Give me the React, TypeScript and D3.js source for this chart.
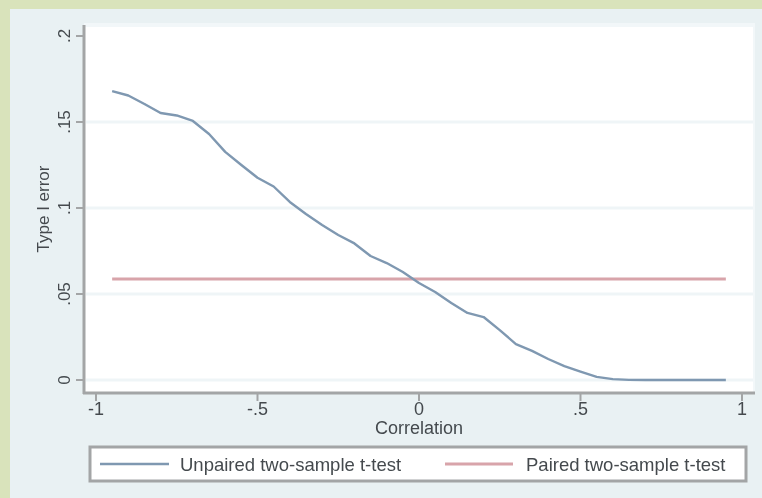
import * as d3 from 'd3';

const correlation = [
	-0.95, -0.9, -0.85, -0.8, -0.75, -0.7, -0.65, -0.6, -0.55, -0.5, -0.45, -0.4, -0.35, -0.3, -0.25, -0.2,
	-0.15, -0.1, -0.05, 0, 0.05, 0.1, 0.15, 0.2, 0.25, 0.3, 0.35, 0.4, 0.45, 0.5, 0.55, 0.6, 0.65, 0.7, 0.75,
	0.8, 0.85, 0.9, 0.95,
];

const unpairedError = [
	0.168, 0.1654, 0.1605, 0.1552, 0.1538, 0.1506, 0.143, 0.1326, 0.125, 0.1176, 0.1125, 0.1035, 0.0965, 0.0901,
	0.0843, 0.0794, 0.0721, 0.068, 0.0628, 0.0564, 0.0512, 0.0448, 0.039, 0.0366, 0.029, 0.0209, 0.0169, 0.0122,
	0.0081, 0.0049, 0.0018, 0.0005, 0.0001, 0, 0, 0, 0, 0, 0,
];

const pairedError = [
	0.0587, 0.0587, 0.0587, 0.0587, 0.0587, 0.0587, 0.0587, 0.0587, 0.0587, 0.0587, 0.0587, 0.0587, 0.0587,
	0.0587, 0.0587, 0.0587, 0.0587, 0.0587, 0.0587, 0.0587, 0.0587, 0.0587, 0.0587, 0.0587, 0.0587, 0.0587,
	0.0587, 0.0587, 0.0587, 0.0587, 0.0587, 0.0587, 0.0587, 0.0587, 0.0587, 0.0587, 0.0587, 0.0587, 0.0587,
];

const xTicks = [-1, -0.5, 0, 0.5, 1];
const xTickLabels = ['-1', '-.5', '0', '.5', '1'];
const yTicks = [0, 0.05, 0.1, 0.15, 0.2];
const yTickLabels = ['0', '.05', '.1', '.15', '.2'];

const seriesLabels = ['Unpaired two-sample t-test', 'Paired two-sample t-test'];

const W = 762;
const H = 498;
const font = '"Liberation Sans", Arial, sans-serif';
const textColor = '#444a4e';
const axisColor = '#a3a5a6';
const blue = '#7f98b1';
const red = '#d8a4aa';

export default function App() {
	// plot area
	const left = 84;
	const right = 753;
	const top = 25;
	const bottom = 393;

	const x = d3.scaleLinear().domain([-1, 1]).range([96, 742]);
	const y = d3.scaleLinear().domain([0, 0.2]).range([380, 36]);

	const unpaired = correlation.map((c, i) => ({ c, v: unpairedError[i] }));
	const paired = correlation.map((c, i) => ({ c, v: pairedError[i] }));

	const line = d3
		.line<{ c: number; v: number }>()
		.x((d) => x(d.c))
		.y((d) => y(d.v));

	return (
		<svg
			width={W}
			height={H}
			style={{ position: 'absolute', left: 0, top: 0 }}
			fontFamily={font}
		>
			<defs>
				<filter id="soft" x="-5%" y="-5%" width="110%" height="110%">
					<feGaussianBlur stdDeviation="0.55" />
				</filter>
			</defs>
			<rect x={0} y={0} width={W} height={H} fill="#d9e3bb" />
			<g filter="url(#soft)">
				{/* graph region */}
				<rect x={10} y={9} width={W - 10} height={H - 9} fill="#e9f1f3" />
				{/* plot region */}
				<rect x={left} y={top - 2} width={right - left + 2} height={bottom - top + 3} fill="#f2f7f9" />
				<rect x={left} y={top + 2} width={right - left} height={bottom - top - 2} fill="#ffffff" />

				{/* grid */}
				{yTicks.slice(0, 4).map((t) => (
					<line
						key={'g' + t}
						x1={left + 2}
						x2={right}
						y1={y(t)}
						y2={y(t)}
						stroke="#eff5f7"
						strokeWidth={3}
					/>
				))}

				{/* axes */}
				<line x1={left} x2={left} y1={top} y2={bottom + 1} stroke={axisColor} strokeWidth={3} />
				<line x1={left - 1} x2={right + 2} y1={bottom} y2={bottom} stroke={axisColor} strokeWidth={3} />

				{yTicks.map((t, i) => (
					<g key={'y' + t}>
						<line x1={left - 8} x2={left} y1={y(t)} y2={y(t)} stroke={axisColor} strokeWidth={2} />
						<text
							transform={`translate(70,${y(t)}) rotate(-90)`}
							textAnchor="middle"
							fontSize={17}
							fill={textColor}
						>
							{yTickLabels[i]}
						</text>
					</g>
				))}

				{xTicks.map((t, i) => (
					<g key={'x' + t}>
						<line x1={x(t)} x2={x(t)} y1={bottom} y2={bottom + 8} stroke={axisColor} strokeWidth={2} />
						<text x={x(t)} y={415} textAnchor="middle" fontSize={18} fill={textColor}>
							{xTickLabels[i]}
						</text>
					</g>
				))}

				<text x={x(0)} y={434} textAnchor="middle" fontSize={18} fill={textColor}>
					Correlation
				</text>
				<text
					transform={`translate(49,${(top + bottom) / 2}) rotate(-90)`}
					textAnchor="middle"
					fontSize={17}
					fill={textColor}
				>
					Type I error
				</text>

				{/* series */}
				<path d={line(paired) ?? ''} fill="none" stroke={red} strokeWidth={3} />
				<path d={line(unpaired) ?? ''} fill="none" stroke={blue} strokeWidth={2.4} strokeLinejoin="round" />

				{/* legend */}
				<rect x={90} y={447} width={656} height={34} fill="#ffffff" stroke={axisColor} strokeWidth={3} />
				<line x1={100} x2={169} y1={464} y2={464} stroke={blue} strokeWidth={2.4} />
				<text x={180} y={471} fontSize={18.5} fill={textColor}>
					{seriesLabels[0]}
				</text>
				<line x1={445} x2={513} y1={464} y2={464} stroke={red} strokeWidth={3} />
				<text x={526} y={471} fontSize={18.5} fill={textColor}>
					{seriesLabels[1]}
				</text>
			</g>
		</svg>
	);
}
